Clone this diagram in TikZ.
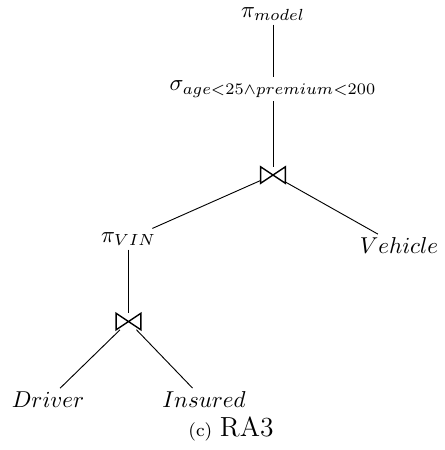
\documentclass[tikz,border=0pt]{standalone}
\usepackage{amssymb}
\begin{document}
\begin{tikzpicture}[x=0.435pt,y=-0.435pt,
  lbl/.style={inner sep=1.5pt},
  joinop/.style={inner sep=0pt,minimum width=10.4pt,minimum height=6.8pt},
  tie/.style={line width=0.6pt,line join=miter},
  edge/.style={line width=0.4pt}]
\useasboundingbox (0,0) rectangle (444,450);
\node[lbl] (pm) at (273,14) {$\pi_{model}$};
\node[lbl] (sg) at (273,89) {$\sigma_{age<25\wedge premium<200}$};
\node[joinop] (j1) at (273,175) {};
\node[lbl] (pv) at (128.5,239) {$\pi_{VIN}$};
\node[lbl] (ve) at (399,246) {$Vehicle$};
\node[joinop] (j2) at (128.5,321.5) {};
\node[lbl] (dr) at (48,400) {$Driver$};
\node[lbl] (in) at (204,400) {$Insured$};
\node (cap) at (231,429) {{\footnotesize (c)} {\large RA3}};
\foreach \j in {j1,j2}
  \draw[tie] (\j.north west) -- (\j.south west) -- (\j.north east) -- (\j.south east) -- cycle;
\draw[edge] (pm) -- (sg);
\draw[edge] (sg) -- (j1);
\draw[edge] (j1) -- (pv);
\draw[edge] (j1) -- (ve);
\draw[edge] (pv) -- (j2);
\draw[edge] (j2) -- (dr);
\draw[edge] (j2) -- (in);
\end{tikzpicture}
\end{document}
